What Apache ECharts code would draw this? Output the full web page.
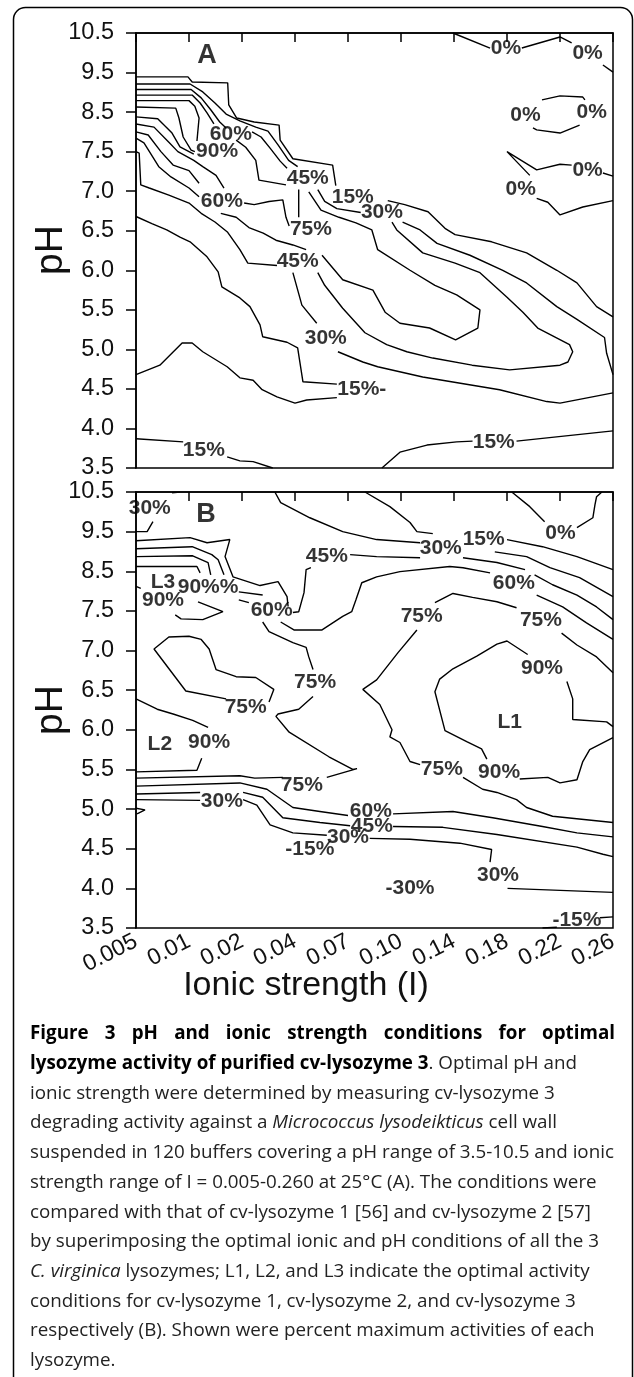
<!DOCTYPE html>
<html><head><meta charset="utf-8">
<script src="https://cdn.jsdelivr.net/npm/echarts@6/dist/echarts.min.js"></script>
<style>html,body{margin:0;padding:0;background:#fff;}#c{width:634px;height:1377px;}</style>
</head><body><div id="c"></div>
<script>
// ---- axes ----
const ionicLabels = ['0.005','0.01','0.02','0.04','0.07','0.10','0.14','0.18','0.22','0.26'];
const pHTicks = ['10.5','9.5','8.5','7.5','7.0','6.5','6.0','5.5','5.0','4.5','4.0','3.5'];

// ---- Panel A contours: polylines of [ionic-strength position, pH] ----
const A_0 = [
  [[5.98,10.5],[6.68,10.12]],
  [[7.28,10.12],[8.00,10.40],[8.22,10.25]],
  [[8.81,9.69],[9,9.51]],
  [[7.66,8.81],[8.00,8.91],[8.43,8.88],[8.47,8.81]],
  [[7.49,8.10],[7.56,8.05],[8.00,7.97],[8.37,8.17]],
  [[7.43,7.20],[7.00,7.50],[7.56,7.27],[8.00,7.34],[8.22,7.33]],
  [[8.81,7.23],[9,7.19]],
  [[7.56,6.91],[7.77,6.86],[8.00,6.70],[8.43,6.80],[9,6.88]]
];
const A_15 = [
  [[0,9.39],[0.98,9.39],[1.06,9.26],[1.73,9.24],[1.75,8.68],[1.90,8.35],[2.23,8.25],[2.70,8.17],[2.72,7.79],[2.96,7.41],[3.71,7.33],[3.77,7.07]],
  [[4.75,6.88],[5.07,6.83],[5.51,6.74],[5.83,6.53],[6.02,6.45],[6.71,6.36],[7.37,6.22],[7.94,6.00],[8.32,5.84],[8.69,5.54],[9,5.41]],
  [[0,6.68],[0.30,6.59],[0.58,6.51],[0.83,6.42],[1.02,6.36],[1.34,6.17],[1.55,5.98],[1.62,5.79],[1.96,5.65],[2.15,5.54],[2.34,5.31],[2.39,5.16],[2.85,5.09],[3.05,5.02],[3.15,4.59],[3.79,4.56]],
  [[0,4.68],[0.45,4.80],[0.87,5.08],[1.06,5.08],[1.26,4.97],[1.72,4.78],[1.96,4.64],[2.21,4.61],[2.38,4.49],[2.66,4.40],[3.00,4.32],[3.22,4.36],[3.79,4.39]],
  [[0,3.87],[0.89,3.83]],
  [[1.72,3.64],[1.96,3.59],[2.21,3.58],[2.58,3.5]],
  [[4.64,3.5],[4.98,3.70],[5.49,3.79],[6.05,3.83],[6.35,3.84]],
  [[7.18,3.84],[9,3.97]]
];
const A_30 = [
  [[0,9.21],[1.02,9.21],[1.26,9.01],[1.49,8.73],[1.70,8.45],[1.96,8.28],[2.26,8.12],[2.49,8.02],[2.68,7.67],[2.88,7.39],[3.05,7.31]],
  [[3.43,7.02],[3.56,6.87],[3.79,6.78],[4.24,6.73]],
  [[5.03,6.61],[5.36,6.51],[5.68,6.34],[6.30,6.19],[6.92,6.00],[7.37,5.84],[7.94,5.54],[8.32,5.38],[8.84,5.15],[8.88,4.95],[9,4.68]],
  [[2.96,5.97],[3.13,5.56],[3.41,5.33]],
  [[4.83,6.61],[4.92,6.51],[5.41,6.22],[6.02,6.09],[6.49,5.97],[7.00,5.66],[7.30,5.47],[7.58,5.27],[8.18,5.06],[8.24,4.97],[8.15,4.84],[8.00,4.80],[7.05,4.74],[6.34,4.80],[5.60,4.89],[5.11,4.97],[4.73,5.06],[4.32,5.21],[3.90,5.52],[3.56,5.81],[3.43,5.97]],
  [[3.81,4.97],[4.28,4.84],[4.56,4.78],[5.41,4.65],[6.86,4.49],[7.75,4.34],[8.00,4.32],[9,4.45]],
  [[0,7.50],[0.06,7.48],[0.09,7.08],[0.25,7.04],[0.62,6.95],[1.00,6.85],[1.23,6.72],[1.49,6.61],[1.73,6.48],[1.96,6.26],[2.11,6.09],[2.66,6.06]]
];
const A_45 = [
  [[0,9.07],[1.04,9.07],[1.23,8.86],[1.41,8.56],[1.58,8.25],[1.70,8.10]],
  [[2.19,8.00],[2.36,7.87],[2.53,7.59],[2.72,7.38],[2.85,7.29]],
  [[0,7.84],[0.15,7.72],[0.43,7.31],[0.66,7.18],[1.00,7.04],[1.19,6.93]],
  [[1.60,6.72],[1.89,6.67],[2.13,6.54],[2.40,6.47],[2.64,6.38],[2.96,6.32],[3.21,6.26]],
  [[3.26,6.99],[3.49,6.76],[3.83,6.67],[4.15,6.60],[4.45,6.51],[4.56,6.26],[5.17,6.00],[5.64,5.81],[6.05,5.69],[6.49,5.50],[6.45,5.27],[6.03,5.12],[5.54,5.27],[4.98,5.33],[4.70,5.47],[4.47,5.75],[3.90,5.88],[3.51,6.19]]
];
const A_60 = [
  [[0,8.93],[1.06,8.93],[1.21,8.73],[1.34,8.48],[1.47,8.20]],
  [[0,8.00],[0.23,7.92],[0.47,7.50],[0.70,7.33],[1.00,7.26],[1.19,7.10]],
  [[2.04,6.85],[2.23,6.83],[2.51,6.87],[2.77,6.89],[2.83,6.67],[2.89,6.56]]
];
const A_75 = [
  [[0,8.79],[1.00,8.79],[1.11,8.65],[1.19,8.35],[1.15,7.77]],
  [[0,8.20],[0.34,8.12],[0.62,7.74],[0.79,7.50],[1.09,7.39],[1.26,7.31],[1.51,7.20],[1.66,7.04]],
  [[3.07,7.02],[3.07,6.67]],
  [[1.89,7.79],[2.07,7.61],[2.26,7.39],[2.32,7.14],[2.83,7.08]]
];
const A_90 = [
  [[0,8.63],[0.75,8.60],[0.81,8.35],[0.89,7.87],[1.04,7.54],[1.11,7.50]],
  [[0,8.38],[0.41,8.33],[0.68,7.97],[0.83,7.62],[1.09,7.47]]
];
const A_labels = [
  ['0%',6.98,10.12],['0%',8.52,9.99],['0%',7.35,8.43],['0%',8.60,8.50],['0%',8.52,7.26],['0%',7.26,7.02],
  ['60%',1.79,7.95],['90%',1.53,7.5],['45%',3.24,7.17],['15%',4.09,6.93],['30%',4.64,6.74],
  ['60%',1.62,6.87],['75%',3.30,6.52],['45%',3.05,6.12],['30%',3.58,5.14],['15%-',4.26,4.5],
  ['15%',1.28,3.73],['15%',6.75,3.83]
];

// ---- Panel B contours ----
const B_0 = [
  [[7.09,10.5],[7.43,10.13],[7.71,9.75]],
  [[8.32,9.60],[8.62,9.85],[8.66,10.18],[8.69,10.38],[8.79,10.5]]
];
const B_15 = [
  [[7.00,9.30],[7.67,9.12],[8.32,8.87],[9,8.54]],
  [[4.32,10.5],[4.79,10.13],[5.17,9.73],[5.30,9.50],[5.60,9.45]],
  [[8.75,3.63],[9,3.64]],
  [[7.67,3.5],[7.94,3.51]]
];
const B_30 = [
  [[0,9.50],[0.21,9.50],[0.32,9.75]],
  [[0.68,10.48],[0.83,10.5]],
  [[2.62,10.5],[2.73,10.23],[3.28,9.85],[3.90,9.50],[4.54,9.30],[5.36,9.22]],
  [[4.41,4.63],[5.17,4.62],[6.11,4.57],[6.71,4.49],[6.68,4.33]],
  [[7.01,4.00],[9,3.95]],
  [[0,5.12],[1.21,5.11]],
  [[2.02,5.12],[2.28,5.05],[2.53,4.80],[2.96,4.70],[3.60,4.67]]
];
const B_45 = [
  [[2.96,7.48],[3.07,7.49],[3.17,7.96],[3.21,8.54],[3.30,8.59]],
  [[4.04,8.92],[4.54,8.87],[5.36,8.84]],
  [[6.17,8.84],[6.81,8.72],[7.34,8.54]],
  [[6.77,8.99],[7.37,8.87],[7.81,8.59],[8.37,8.34],[9,7.86]],
  [[0,5.19],[1.21,5.21]],
  [[2.02,5.21],[2.39,5.15],[2.77,4.89],[3.47,4.83],[4.04,4.79]],
  [[4.85,4.78],[5.79,4.77],[6.81,4.68],[8.32,4.52],[8.81,4.43],[9,4.40]]
];
const B_60 = [
  [[2.73,7.36],[2.98,7.26],[3.51,7.26],[3.90,7.43],[4.07,7.49],[4.15,7.78],[4.26,8.21],[4.54,8.36],[4.98,8.49],[5.92,8.62],[6.17,8.59],[6.68,8.46]],
  [[7.52,8.41],[7.86,8.16],[8.32,7.90],[8.69,7.60],[9,7.39]],
  [[0,5.29],[1.96,5.33],[2.47,5.25],[2.96,5.02],[3.47,4.97],[4.00,4.92]],
  [[4.85,4.94],[5.98,4.97],[6.73,4.89],[7.67,4.78],[8.32,4.70],[9,4.65]],
  [[1.94,7.98],[2.39,7.90]]
];
const B_75 = [
  [[5.30,7.26],[4.94,6.97],[4.54,6.63],[4.28,6.51],[4.60,6.32],[4.83,6.00],[4.79,5.91],[4.98,5.84],[5.17,5.60],[5.36,5.56]],
  [[5.64,7.71],[5.98,7.94],[6.35,7.84],[6.81,7.73],[7.18,7.58]],
  [[7.56,7.90],[8.05,7.60],[8.50,7.35],[9,7.14]],
  [[8.03,7.22],[8.32,7.07],[8.69,6.92],[9,6.72]],
  [[1.70,6.39],[0.94,6.49],[0.34,7.02],[0.62,7.17],[1.00,7.18],[1.23,7.14],[1.38,7.02],[1.51,6.76],[1.89,6.67],[2.26,6.66],[2.60,6.51],[2.51,6.35]],
  [[2.39,7.36],[2.51,7.24],[2.96,7.10],[3.21,7.04],[3.26,6.92],[3.34,6.76]],
  [[3.34,6.42],[3.07,6.26],[2.68,6.20],[2.64,6.17],[2.89,5.97],[3.64,5.66],[4.09,5.50],[4.17,5.51],[3.60,5.40]],
  [[0,5.39],[1.96,5.42],[2.24,5.39],[2.77,5.40]],
  [[6.17,5.40],[6.54,5.25],[6.81,5.21],[7.18,5.12],[7.37,5.02],[7.86,4.91],[9,4.83]]
];
const B_90 = [
  [[0,9.27],[1.02,9.35],[1.34,9.22],[1.77,9.30],[1.68,8.87],[1.83,8.36],[2.34,8.14],[2.68,8.24],[2.85,7.86],[2.87,7.61]],
  [[0,9.07],[1.06,9.12],[1.43,8.92],[1.55,8.79],[1.66,8.41]],
  [[0,8.87],[1.07,8.89],[1.36,8.72],[1.41,8.41]],
  [[0,8.62],[1.15,8.62],[1.21,8.46]],
  [[1.94,7.78],[2.13,7.71]],
  [[1.17,7.73],[1.64,7.49],[1.26,7.39],[0.85,7.40],[0.74,7.45]],
  [[0,8.12],[0.09,8.07]],
  [[6.62,5.63],[6.52,5.76],[6.24,5.85],[5.83,5.99],[5.64,6.48],[5.73,6.64],[5.98,6.77],[6.43,6.93],[6.81,7.08],[7.00,7.12],[7.39,6.95]],
  [[8.13,6.61],[8.24,6.39],[8.24,6.13],[8.88,6.10],[9,6.04]],
  [[9,5.90],[8.56,5.75],[8.43,5.60],[8.32,5.37],[8.00,5.33],[7.77,5.40],[7.24,5.38]],
  [[0,6.39],[0.40,6.26],[0.70,6.20],[1.07,6.12],[1.36,6.03]],
  [[0,5.47],[1.15,5.49],[1.24,5.64]],
  [[0,5.01],[0.17,4.99],[0.02,4.94]]
];
const B_labels = [
  ['30%',0.26,10.09],['L3',0.51,8.22],['90%%',1.36,8.09],['90%',0.51,7.76],
  ['60%',2.56,7.52],['45%',3.60,8.89],['30%',5.75,9.09],['15%',6.56,9.30],['0%',8.01,9.47],['60%',7.13,8.19],
  ['75%',5.39,7.43],['75%',7.64,7.38],['90%',7.66,6.78],['75%',2.07,6.28],['75%',3.38,6.60],
  ['L1',7.05,6.10],['L2',0.45,5.82],['90%',1.38,5.84],['75%',5.77,5.50],['90%',6.85,5.46],
  ['75%',3.13,5.30],['30%',1.62,5.10],['60%',4.43,4.97],['45%',4.45,4.79],['30%',4.00,4.64],['-15%',3.28,4.49],
  ['30%',6.83,4.17],['-30%',5.17,4.00],['-15%',8.32,3.60]
];
const panelLetters = [['A',1.34,9.92],['B',1.32,9.94]];

// ---- caption ----
const captionFirst = 'Figure 3 pH and ionic strength conditions for optimal';
const captionLines = [
  '{b|lysozyme activity of purified cv-lysozyme 3}. Optimal pH and',
  'ionic strength were determined by measuring cv-lysozyme 3',
  'degrading activity against a {i|Micrococcus lysodeikticus} cell wall',
  'suspended in 120 buffers covering a pH range of 3.5-10.5 and ionic',
  'strength range of I = 0.005-0.260 at 25°C (A). The conditions were',
  'compared with that of cv-lysozyme 1 [56] and cv-lysozyme 2 [57]',
  'by superimposing the optimal ionic and pH conditions of all the 3',
  '{i|C. virginica} lysozymes; L1, L2, and L3 indicate the optimal activity',
  'conditions for cv-lysozyme 1, cv-lysozyme 2, and cv-lysozyme 3',
  'respectively (B). Shown were percent maximum activities of each',
  'lysozyme.'
];

// ---- build ----
function pHToRow(ph) { return ph >= 7.5 ? 10.5 - ph : 3 + (7.5 - ph) * 2; }

const LBL_FONT = 'Liberation Sans';
const series = [];
function addLines(groups, gi) {
  groups.forEach(function (g) {
    g.forEach(function (poly) {
      series.push({
        type: 'line', xAxisIndex: gi, yAxisIndex: gi, silent: true, animation: false,
        symbol: 'none', showSymbol: false, z: 2,
        lineStyle: { color: '#000', width: 1.4 },
        data: poly.map(function (p) { return [p[0], pHToRow(p[1])]; })
      });
    });
  });
}
function addLabels(list, gi, size) {
  series.push({
    type: 'scatter', xAxisIndex: gi, yAxisIndex: gi, silent: true, animation: false,
    symbolSize: 1, itemStyle: { color: 'transparent' }, z: 5,
    label: { show: true, position: 'inside', formatter: '{b}', color: '#000',
      fontFamily: LBL_FONT, fontWeight: 'bold', fontSize: size },
    data: list.map(function (l) { return { name: l[0], value: [l[1], pHToRow(l[2])] }; })
  });
}
addLines([A_0, A_15, A_30, A_45, A_60, A_75, A_90], 0);
addLines([B_0, B_15, B_30, B_45, B_60, B_75, B_90], 1);
addLabels(A_labels, 0, 21);
addLabels(B_labels, 1, 21);
addLabels([panelLetters[0]], 0, 27);
addLabels([panelLetters[1]], 1, 27);

function xAxis(gi, showLabels) {
  return {
    type: 'value', gridIndex: gi, min: 0, max: 9, interval: 1,
    axisLine: { show: true, lineStyle: { color: '#000', width: 1.5 } },
    axisTick: { show: true, length: 9, lineStyle: { color: '#000', width: 1.5 } },
    splitLine: { show: false },
    axisLabel: { show: showLabels, rotate: 27, margin: 12, fontSize: 23, color: '#111',
      fontFamily: LBL_FONT, formatter: function (v) { return ionicLabels[Math.round(v)]; } }
  };
}
function yAxis(gi) {
  return {
    type: 'value', gridIndex: gi, min: 0, max: 11, interval: 1, inverse: true,
    axisLine: { show: true, lineStyle: { color: '#000', width: 1.5 } },
    axisTick: { show: true, length: 10, lineStyle: { color: '#000', width: 1.5 } },
    splitLine: { show: false },
    axisLabel: { margin: 22, fontSize: 23.5, color: '#111', fontFamily: LBL_FONT,
      formatter: function (v) { return pHTicks[Math.round(v)]; } }
  };
}

const graphics = [];
graphics.push({ type: 'rect', silent: true, shape: { x: 13.5, y: 7.5, width: 619, height: 1400, r: 12 },
  style: { fill: 'none', stroke: '#000', lineWidth: 1.5 } });
graphics.push({ type: 'text', silent: true, x: 51, y: 250, rotation: Math.PI / 2,
  style: { text: 'pH', fontSize: 39, fontFamily: LBL_FONT, fill: '#111', textAlign: 'center', textVerticalAlign: 'middle' } });
graphics.push({ type: 'text', silent: true, x: 51, y: 710, rotation: Math.PI / 2,
  style: { text: 'pH', fontSize: 39, fontFamily: LBL_FONT, fill: '#111', textAlign: 'center', textVerticalAlign: 'middle' } });
graphics.push({ type: 'text', silent: true, x: 306, y: 986,
  style: { text: 'Ionic strength (I)', fontSize: 34, fontFamily: LBL_FONT, fill: '#111', textAlign: 'center', textVerticalAlign: 'middle' } });

const CAP_SIZE = 18.8, CAP_X = 30, CAP_R = 615, CAP_Y0 = 1034, CAP_LH = 29.7;
(function () {
  const ctx = document.createElement('canvas').getContext('2d');
  ctx.font = 'bold ' + CAP_SIZE + 'px "Open Sans"';
  const words = captionFirst.split(' ');
  const widths = words.map(function (w) { return ctx.measureText(w).width; });
  const total = widths.reduce(function (a, b) { return a + b; }, 0);
  const gap = (CAP_R - CAP_X - total) / (words.length - 1);
  let x = CAP_X;
  words.forEach(function (w, i) {
    graphics.push({ type: 'text', silent: true, x: x, y: CAP_Y0,
      style: { text: w, fontSize: CAP_SIZE, fontWeight: 'bold', fontFamily: 'Open Sans', fill: '#000', textAlign: 'left', textVerticalAlign: 'middle' } });
    x += widths[i] + gap;
  });
})();
captionLines.forEach(function (t, i) {
  graphics.push({ type: 'text', silent: true, x: CAP_X, y: CAP_Y0 + (i + 1) * CAP_LH,
    style: { text: t, fontSize: CAP_SIZE, fontFamily: 'Open Sans', fill: '#222', textAlign: 'left', textVerticalAlign: 'middle',
      rich: {
        b: { fontSize: CAP_SIZE, fontFamily: 'Open Sans', fontWeight: 'bold', fill: '#000' },
        i: { fontSize: CAP_SIZE, fontFamily: 'Open Sans', fontStyle: 'italic', fill: '#222' }
      } } });
});

const chart = echarts.init(document.getElementById('c'), null, { renderer: 'canvas' });
chart.setOption({
  backgroundColor: '#fff',
  animation: false,
  grid: [
    { left: 136, top: 33, width: 477, height: 435, show: true, borderColor: '#000', borderWidth: 1.5 },
    { left: 136, top: 492, width: 477, height: 436, show: true, borderColor: '#000', borderWidth: 1.5 }
  ],
  xAxis: [xAxis(0, false), xAxis(1, true)],
  yAxis: [yAxis(0), yAxis(1)],
  series: series,
  graphic: graphics
});
</script></body></html>
